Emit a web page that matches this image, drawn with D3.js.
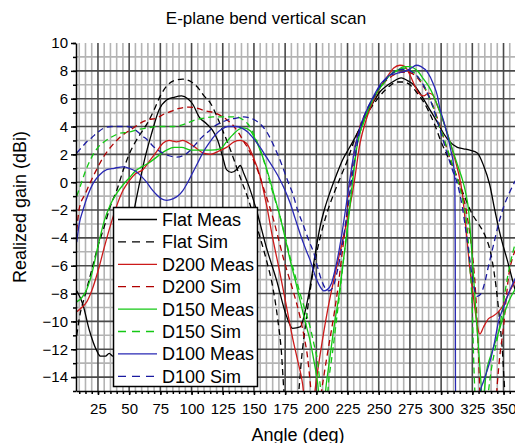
<!DOCTYPE html>
<html lang="en">
<head>
<meta charset="UTF-8">
<title>E-plane bend vertical scan</title>
<script src="https://cdn.jsdelivr.net/npm/d3@7"></script>
<style>
  body { margin: 0; background: #fff; }
  svg { font-family: "Liberation Sans", Arial, sans-serif; }
  .axis path, .axis line { stroke: #000; stroke-width: 1.5; }
  .axis text { font-size: 15px; fill: #000; font-family: "Liberation Sans", Arial, sans-serif; }
</style>
</head>
<body>
<script>
// tick labels
let xTicks = d3.range(25, 351, 25)
let yTicks = d3.range(-14, 11, 2)

// [angle (deg), realized gain (dBi)]
let flatMeas = [[8,-7.8],[13,-8.8],[18,-10.6],[24,-12.1],[27,-12.5],[31,-12.5],[34,-12.3],[37,-12.5],[40,-11.5],[44,-8.5],[48,-5.5],[51,-3.5],[54,-2],[58,-0.2],[62,1.5],[68,3.5],[74,5.2],[80,5.9],[86,6.1],[92,6.2],[97,6.0],[101,5.6],[106,4.7],[112,4.2],[117,3.7],[121,3.0],[125,1.8],[128,0.9],[132,0.7],[136,0.9],[139,1.2],[142,0.6],[146,-0.3],[152,-2.0],[160,-4.7],[168,-7.0],[176,-9.6],[181,-10.5],[187,-10.4],[191,-9.3],[195,-7.5],[199,-5.2],[203,-3.2],[207,-1.8],[211,-0.7],[216,0.5],[221,1.6],[226,2.4],[231,3.2],[236,4.1],[241,5.0],[246,5.8],[251,6.5],[256,6.9],[261,7.2],[268,7.5],[273,7.3],[278,7.0],[283,6.4],[289,5.5],[297,4.3],[302,3.5],[306,3.0],[313,2.5],[318,2.4],[323,2.3],[329,2.1],[334,1.2],[339,-0.2],[343,-2],[348,-4],[353,-5.6],[360,-8]]
let flatSim = [[8,-11],[10,-9.8],[15,-8],[20,-6.3],[25,-4.6],[30,-3.2],[35,-1.7],[40,-0.6],[45,0.8],[50,2.0],[55,2.9],[60,3.6],[65,4.3],[70,5.2],[75,6.2],[80,6.9],[86,7.3],[93,7.4],[100,7.2],[105,6.8],[110,6.2],[115,5.7],[120,4.8],[125,3.7],[130,2.6],[136,1.1],[140,0.1],[145,-1.1],[150,-2.5],[155,-4.0],[160,-5.6],[165,-7.5],[169,-9.8],[172,-12.2],[174,-15],[176,-17],[184,-17],[186,-15],[188,-12.8],[191,-10.5],[195,-7.8],[200,-5.2],[205,-3.3],[210,-1.8],[215,-0.6],[220,0.5],[225,1.6],[230,2.9],[235,3.9],[240,4.8],[245,5.5],[250,6.1],[255,6.6],[260,7.0],[265,7.2],[270,7.2],[275,7.0],[280,6.5],[285,5.9],[290,5.1],[295,4.1],[300,2.9],[305,1.9],[310,1.0],[315,-0.2],[320,-1.3],[325,-2.3],[330,-3.0],[335,-3.8],[340,-5.2],[344,-7.5],[347,-10],[349,-12],[351,-15],[353,-17]]
let d200Meas = [[8,-9.3],[12,-9.0],[16,-8.6],[20,-7.8],[25,-6.4],[30,-4.7],[35,-3.1],[40,-1.7],[45,-0.6],[50,0.1],[55,0.6],[61,0.9],[67,1.6],[72,2.2],[77,2.8],[82,3.0],[88,2.9],[93,3.0],[98,2.8],[103,2.5],[109,2.1],[115,2.0],[121,2.2],[128,2.5],[134,2.9],[139,3.0],[144,2.8],[149,1.9],[155,0.4],[160,-1.6],[165,-4.0],[171,-6.6],[176,-8.9],[181,-11.2],[185,-12.8],[189,-14.5],[191,-16],[197,-16],[200,-14.2],[203,-12.4],[209,-9.2],[215,-6.6],[220,-4.6],[225,-2.6],[230,-0.2],[235,2.8],[240,4.5],[246,5.9],[251,6.8],[257,7.6],[262,8.2],[267,8.4],[271,8.3],[275,7.7],[279,6.9],[282,6.4],[286,6.2],[290,6.4],[293,6.3],[297,5.5],[301,4.6],[305,3.5],[309,2.3],[313,1.0],[317,-0.8],[320,-3.4],[323,-6.2],[326,-8.3],[329,-10.3],[331,-10.9],[334,-10.4],[338,-9.8],[342,-9.6],[346,-9.3],[350,-8.8],[354,-8.0],[360,-7.0]]
let d200Sim = [[8,-3.5],[10,-1.9],[15,-0.8],[20,0.2],[25,1.1],[30,1.9],[35,2.5],[40,3.0],[45,3.4],[50,3.7],[55,4.0],[60,4.3],[66,4.5],[72,4.6],[78,4.9],[84,5.1],[90,5.3],[98,5.4],[105,5.3],[112,5.1],[118,5.0],[123,4.8],[128,4.5],[134,4.0],[138,3.5],[142,2.9],[146,2.3],[150,1.5],[154,0.6],[158,-0.5],[162,-1.6],[166,-2.8],[170,-4.2],[174,-5.6],[178,-6.8],[182,-8.0],[187,-9.7],[190,-11],[193,-12.6],[195,-14.3],[197,-16],[202,-16],[205,-14.5],[208,-12.8],[211,-11.2],[214,-9.6],[217,-7.8],[220,-5.6],[223,-3.4],[226,-1.0],[230,2.0],[235,4.0],[241,5.2],[246,6.1],[251,6.8],[256,7.3],[262,7.7],[268,7.9],[273,7.9],[277,7.8],[281,7.5],[285,7.0],[289,6.4],[293,5.6],[297,4.6],[301,3.5],[305,2.3],[310,1.0],[314,0.0],[317,-0.8],[321,-2.5],[324,-4.4],[326,-6.0],[328,-8.5],[329,-10.5],[330,-12.5],[331,-15],[332,-17],[343,-17],[345,-14.5],[347,-12.5],[350,-10.4],[352,-8.5],[354,-6.8],[357,-5.5],[360,-4.8]]
let d150Meas = [[8,-8.6],[12,-8.3],[16,-7.7],[20,-6.6],[25,-4.6],[30,-2.8],[35,-1.6],[40,-0.8],[45,-0.2],[50,0.3],[55,0.8],[60,1.1],[66,1.4],[72,1.8],[80,2.3],[86,2.5],[92,2.5],[100,2.3],[108,2.3],[115,2.3],[123,2.4],[128,2.9],[133,3.4],[138,3.8],[142,3.9],[147,3.7],[151,3.1],[155,2.3],[159,1.3],[163,0.1],[167,-1.2],[171,-2.5],[175,-4.0],[179,-5.6],[183,-7.0],[187,-8.5],[191,-10.0],[195,-11.4],[198,-12.8],[201,-14.4],[203,-16],[206,-16],[208,-14.5],[211,-12.5],[214,-10.5],[218,-8.2],[222,-5.4],[226,-2.5],[229,0],[233,2.8],[238,4.4],[243,5.5],[248,6.4],[254,7.1],[258,7.6],[262,7.9],[266,8.1],[270,8.3],[274,8.3],[278,8.2],[282,7.9],[286,7.4],[290,6.9],[294,6.2],[298,5.3],[302,4.3],[306,3.2],[310,2.1],[314,1.0],[317,0.2],[320,-0.9],[322,-2.0],[324,-4.3],[326,-6.8],[328,-9.5],[330,-12],[332,-14.5],[333,-16],[334,-15.5],[336,-13.8],[340,-12.4],[343,-11.6],[346,-10.8],[350,-9.6],[354,-8.6],[360,-7.6]]
let d150Sim = [[8,-1.0],[10,-0.5],[15,0.8],[20,1.8],[25,2.5],[30,2.9],[35,3.2],[42,3.5],[50,3.6],[58,3.8],[65,3.9],[72,4.0],[80,4.0],[86,4.0],[92,4.1],[98,4.3],[104,4.5],[110,4.6],[117,4.7],[124,4.7],[131,4.7],[136,4.7],[141,4.5],[145,4.2],[149,3.6],[153,2.8],[157,1.8],[160,0.9],[163,-0.1],[167,-1.3],[171,-2.5],[175,-3.9],[179,-5.4],[183,-6.7],[187,-8.0],[191,-9.2],[195,-10.4],[198,-11.6],[201,-12.9],[203,-14.5],[205,-16],[208,-16],[210,-14.2],[213,-12.2],[216,-10.0],[219,-7.8],[222,-5.4],[225,-3.2],[228,-0.6],[232,2.4],[238,4.3],[243,5.5],[249,6.5],[254,7.2],[259,7.7],[265,8.0],[270,8.2],[274,8.1],[278,7.9],[282,7.5],[286,7.0],[290,6.2],[294,5.3],[298,4.2],[302,3.2],[306,2.1],[310,1.0],[315,-0.4],[318,-1.6],[321,-3.4],[323,-6.0],[325,-9.2],[326,-12.5],[327,-15],[328,-17],[336,-17],[338,-15],[340,-13.6],[343,-12.1],[346,-10.8],[348,-9.8],[351,-8.0],[355,-6.0],[360,-4.2]]
let d100Meas = [[8,-4.3],[10,-3.0],[13,-2.0],[17,-0.9],[21,-0.1],[26,0.5],[32,0.9],[38,1.0],[45,1.1],[50,1.0],[55,0.8],[60,0.4],[64,0.0],[68,-0.5],[72,-0.9],[76,-1.2],[80,-1.3],[85,-1.2],[89,-1.0],[93,-0.6],[97,0.0],[101,0.7],[105,1.4],[109,2.1],[114,2.8],[119,3.4],[124,3.8],[129,4.0],[135,4.0],[140,3.9],[145,3.6],[150,3.1],[155,2.5],[160,1.8],[165,1.1],[169,0.5],[174,-0.4],[179,-1.5],[183,-2.6],[187,-3.7],[191,-4.7],[195,-5.6],[199,-6.7],[203,-7.5],[206,-7.8],[209,-7.7],[212,-7.3],[215,-6.3],[218,-5.0],[221,-3.4],[224,-1.6],[227,0.3],[231,2.5],[236,4.2],[241,5.3],[246,6.2],[251,7.0],[255,7.4],[259,7.7],[264,7.8],[268,7.9],[272,8.0],[276,8.2],[280,8.4],[284,8.3],[289,7.9],[294,7.0],[297,6.2],[299,5.3],[302,4.4],[305,3.4],[308,2.2],[310,1.2],[311,0],[311.3,-4],[311.6,-17],[312,-17],[329,-17],[331,-15.2],[334,-14.3],[337,-13.5],[340,-12.6],[343,-11.4],[346,-10.0],[350,-9.0],[354,-8.0],[360,-6.8]]
let d100Sim = [[8,2.1],[12,2.5],[16,2.9],[20,3.2],[25,3.6],[30,3.9],[36,4.0],[42,4.0],[48,4.0],[53,3.9],[57,3.6],[61,3.3],[65,3.0],[69,2.6],[73,2.3],[77,2.1],[82,1.9],[88,1.8],[93,1.9],[98,2.2],[103,2.7],[108,3.2],[113,3.6],[118,4.0],[124,4.3],[130,4.5],[136,4.6],[142,4.7],[147,4.6],[152,4.4],[157,4.0],[161,3.5],[165,2.8],[169,2.0],[173,1.1],[177,0.1],[181,-0.8],[185,-2.0],[190,-3.2],[194,-4.2],[198,-5.1],[201,-6.1],[204,-7.0],[207,-7.6],[210,-7.8],[213,-7.6],[216,-6.7],[219,-5.4],[222,-3.8],[225,-2.0],[228,0.0],[231,1.8],[235,3.8],[240,5.1],[246,6.1],[251,6.9],[257,7.5],[262,7.9],[267,8.1],[272,8.1],[277,7.9],[281,7.6],[285,7.1],[289,6.4],[293,5.5],[297,4.4],[301,3.2],[305,2.0],[309,0.9],[313,-0.1],[317,-1.8],[320,-3.6],[323,-5.6],[326,-7.4],[329,-8.2],[332,-8.0],[335,-7.2],[338,-6.0],[342,-4.5],[346,-3.0],[350,-1.8],[355,-0.7],[360,0.2]]

let legendLabels = ["Flat Meas", "Flat Sim", "D200 Meas", "D200 Sim", "D150 Meas", "D150 Sim", "D100 Meas", "D100 Sim"]
let seriesData = [flatMeas, flatSim, d200Meas, d200Sim, d150Meas, d150Sim, d100Meas, d100Sim]
let seriesColors = ["#000000", "#000000", "#cc1a1a", "#b00000", "#14c814", "#14c814", "#2828b4", "#1a1aa0"]
let seriesDashed = [false, true, false, true, false, true, false, true]

let w = 515, h = 443
let plotLeft = 76, plotRight = 516, plotTop = 43, plotBottom = 391

let xScale = d3.scaleLinear().domain([7.4, 360]).range([plotLeft, plotRight])
let yScale = d3.scaleLinear().domain([-15, 10]).range([plotBottom, plotTop])

let svg = d3.select("body").append("svg")
    .attr("width", w)
    .attr("height", h)

svg.append("clipPath").attr("id", "plot")
    .append("rect")
    .attr("x", plotLeft).attr("y", plotTop)
    .attr("width", plotRight - plotLeft).attr("height", plotBottom - plotTop)

// grid: minor first, then major
let grid = svg.append("g")
let xMinor = d3.range(10, 361, 5).filter((d) => d % 25 != 0)
let yMinor = d3.range(-13, 10, 2)

grid.selectAll(".vminor").data(xMinor).enter().append("line")
    .attr("x1", (d) => xScale(d)).attr("x2", (d) => xScale(d))
    .attr("y1", plotTop).attr("y2", plotBottom)
    .attr("stroke", "#b4b4b4").attr("stroke-width", 1.6)

grid.selectAll(".hminor").data(yMinor).enter().append("line")
    .attr("x1", plotLeft).attr("x2", plotRight)
    .attr("y1", (d) => yScale(d)).attr("y2", (d) => yScale(d))
    .attr("stroke", "#b4b4b4").attr("stroke-width", 1.6)

grid.selectAll(".vmajor").data(xTicks).enter().append("line")
    .attr("x1", (d) => xScale(d)).attr("x2", (d) => xScale(d))
    .attr("y1", plotTop).attr("y2", plotBottom)
    .attr("stroke", "#4a4a4a").attr("stroke-width", 1.6)

grid.selectAll(".hmajor").data(yTicks.filter((d) => d < 10)).enter().append("line")
    .attr("x1", plotLeft).attr("x2", plotRight)
    .attr("y1", (d) => yScale(d)).attr("y2", (d) => yScale(d))
    .attr("stroke", "#4a4a4a").attr("stroke-width", 1.6)

// curves
let line = d3.line()
    .x((d) => xScale(d[0]))
    .y((d) => yScale(d[1]))
    .curve(d3.curveMonotoneX)

svg.append("g").attr("clip-path", "url(#plot)")
    .selectAll("path")
    .data(seriesData)
    .enter()
    .append("path")
    .attr("d", (d) => line(d))
    .attr("fill", "none")
    .attr("stroke", (d, i) => seriesColors[i])
    .attr("stroke-width", 1.3)
    .attr("stroke-dasharray", (d, i) => seriesDashed[i] ? "6,4" : null)

// axes
svg.append("g")
    .attr("class", "axis")
    .attr("transform", "translate(0," + plotBottom + ")")
    .call(d3.axisBottom(xScale).tickValues(d3.range(10, 361, 5)).tickSize(3).tickSizeOuter(0).tickFormat(""))

svg.append("g")
    .attr("class", "axis")
    .attr("transform", "translate(0," + plotBottom + ")")
    .call(d3.axisBottom(xScale).tickValues(xTicks).tickSize(4).tickPadding(8).tickSizeOuter(0))
    .select(".domain").remove()

svg.append("g")
    .attr("class", "axis")
    .attr("transform", "translate(" + plotLeft + ",0)")
    .call(d3.axisLeft(yScale).tickValues(d3.range(-15, 11, 1)).tickSize(3).tickSizeOuter(0).tickFormat(""))

svg.append("g")
    .attr("class", "axis")
    .attr("transform", "translate(" + plotLeft + ",0)")
    .call(d3.axisLeft(yScale).tickValues(yTicks).tickSize(5).tickPadding(3).tickSizeOuter(0))
    .select(".domain").remove()

// legend
let legend = svg.append("g")
legend.append("rect")
    .attr("x", 113.5).attr("y", 207.5)
    .attr("width", 144).attr("height", 179)
    .attr("fill", "#fff").attr("stroke", "#000").attr("stroke-width", 1.5)

let rows = legend.selectAll(".row")
    .data(legendLabels)
    .enter()
    .append("g")
    .attr("transform", (d, i) => "translate(0," + (219.5 + i * 22.4) + ")")

rows.append("line")
    .attr("x1", 118).attr("x2", 157)
    .attr("stroke", (d, i) => seriesColors[i])
    .attr("stroke-width", 1.3)
    .attr("stroke-dasharray", (d, i) => seriesDashed[i] ? "8,6" : null)

rows.append("text")
    .attr("x", 162).attr("y", 6.5)
    .attr("font-size", "18px")
    .text((d) => d)

// titles
svg.append("text")
    .attr("x", 266).attr("y", 24)
    .attr("text-anchor", "middle")
    .attr("font-size", "17px")
    .text("E-plane bend vertical scan")

svg.append("text")
    .attr("transform", "translate(26,207) rotate(-90)")
    .attr("text-anchor", "middle")
    .attr("font-size", "18px")
    .text("Realized gain (dBi)")

svg.append("text")
    .attr("x", 298).attr("y", 441)
    .attr("text-anchor", "middle")
    .attr("font-size", "18px")
    .text("Angle (deg)")
</script>
</body>
</html>
